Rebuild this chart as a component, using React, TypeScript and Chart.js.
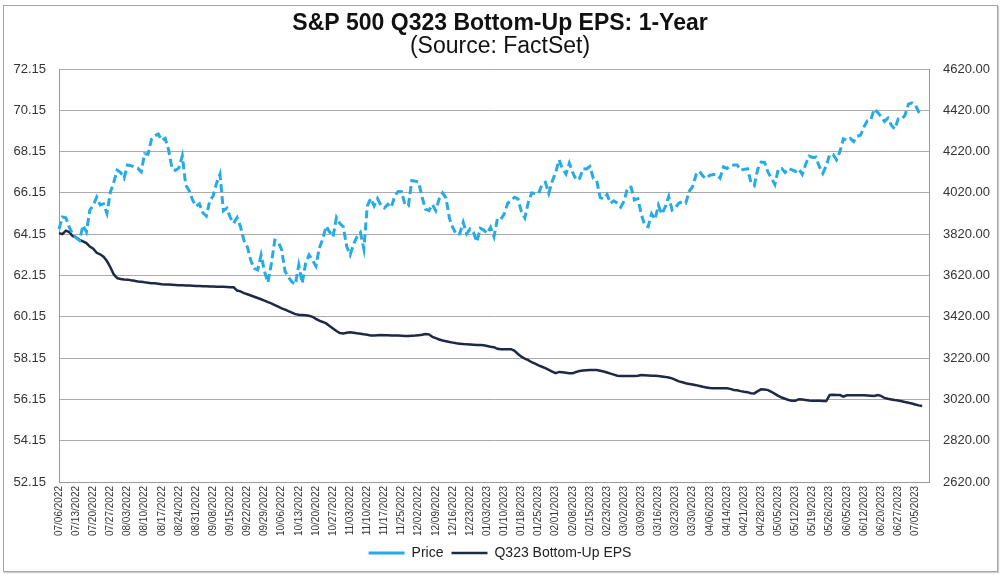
import React, { useEffect, useRef } from "react";
import { Chart, registerables } from "chart.js";

Chart.register(...registerables);

// Trading days shown on the category axis: [year, month, days]
const tradingDays: [number, number, number[]][] = [
  [2022, 7, [6, 7, 8, 11, 12, 13, 14, 15, 18, 19, 20, 21, 22, 25, 26, 27, 28, 29]],
  [2022, 8, [1, 2, 3, 4, 5, 8, 9, 10, 11, 12, 15, 16, 17, 18, 19, 22, 23, 24, 25, 26, 29, 30, 31]],
  [2022, 9, [1, 2, 6, 7, 8, 9, 12, 13, 14, 15, 16, 19, 20, 21, 22, 23, 26, 27, 28, 29, 30]],
  [2022, 10, [3, 4, 5, 6, 7, 10, 11, 12, 13, 14, 17, 18, 19, 20, 21, 24, 25, 26, 27, 28, 31]],
  [2022, 11, [1, 2, 3, 4, 7, 8, 9, 10, 11, 14, 15, 16, 17, 18, 21, 22, 23, 25, 28, 29, 30]],
  [2022, 12, [1, 2, 5, 6, 7, 8, 9, 12, 13, 14, 15, 16, 19, 20, 21, 22, 23, 27, 28, 29, 30]],
  [2023, 1, [3, 4, 5, 6, 9, 10, 11, 12, 13, 17, 18, 19, 20, 23, 24, 25, 26, 27, 30, 31]],
  [2023, 2, [1, 2, 3, 6, 7, 8, 9, 10, 13, 14, 15, 16, 17, 21, 22, 23, 24, 27, 28]],
  [2023, 3, [1, 2, 3, 6, 7, 8, 9, 10, 13, 14, 15, 16, 17, 20, 21, 22, 23, 24, 27, 28, 29, 30, 31]],
  [2023, 4, [3, 4, 5, 6, 10, 11, 12, 13, 14, 17, 18, 19, 20, 21, 24, 25, 26, 27, 28]],
  [2023, 5, [1, 2, 3, 4, 5, 8, 9, 10, 11, 12, 15, 16, 17, 18, 19, 22, 23, 24, 25, 26, 30, 31]],
  [2023, 6, [1, 2, 5, 6, 7, 8, 9, 12, 13, 14, 15, 16, 20, 21, 22, 23, 26, 27, 28, 29, 30]],
  [2023, 7, [3, 5, 6, 7, 10, 11]],
];

// S&P 500 price (right axis)
const priceValues: (number | null)[] = [
  // Jul 2022
  3845, 3903, 3899, 3854, 3819, 3802, 3790, 3863, 3831, 3937, 3960, 3999, 3962, 3967, 3921, 4024, 4072, 4130,
  // Aug
  4119, 4091, 4155, 4152, 4145, 4140, 4122, 4210, 4207, 4280, 4297, 4305, 4274, 4284, 4228, 4138, 4129, 4141, 4199, 4058, 4031, 3986, 3955,
  // Sep
  3967, 3924, 3908, 3980, 4006, 4067, 4110, 3933, 3946, 3901, 3873, 3900, 3856, 3790, 3758, 3693, 3655, 3647, 3719, 3640, 3586,
  // Oct
  3678, 3791, 3783, 3745, 3640, 3612, 3589, 3577, 3670, 3583, 3678, 3720, 3695, 3666, 3753, 3797, 3859, 3831, 3807, 3901, 3872,
  // Nov
  3856, 3760, 3720, 3771, 3807, 3828, 3749, 3956, 3993, 3957, 3992, 3959, 3947, 3965, 3950, 4004, 4027, 4026, 3964, 3958, 4080,
  // Dec
  4077, 4072, 3999, 3941, 3934, 3964, 3934, 3991, 4020, 3995, 3896, 3852, 3818, 3822, 3878, 3822, 3845, 3829, 3783, 3849, 3840,
  // Jan 2023
  3824, 3853, 3808, 3895, 3892, 3919, 3970, 3983, 3999, 3991, 3929, 3899, 3973, 4020, 4017, 4016, 4060, 4071, 4018, 4077,
  // Feb
  4119, 4180, 4136, 4111, 4164, 4118, 4082, 4090, 4137, 4136, 4148, 4090, 4079, 3997, 3991, 4012, 3970, 3982, 3970,
  // Mar
  3951, 3981, 4046, 4048, 3986, 3992, 3918, 3862, 3856, 3919, 3892, 3960, 3917, 3952, 4003, 3937, 3949, 3971, 3978, 3971, 4028, 4051, 4109,
  // Apr
  4125, 4101, 4090, 4105, 4109, 4109, 4092, 4146, 4138, 4151, 4155, 4155, 4130, 4134, 4137, 4072, 4056, 4135, 4169,
  // May
  4168, 4120, 4091, 4061, 4136, 4138, 4119, 4138, 4131, 4124, 4136, 4110, 4159, 4198, 4192, 4193, 4146, 4115, 4151, 4205, 4206, 4180,
  // Jun
  4221, 4282, 4274, 4284, 4268, 4294, 4299, 4339, 4369, 4373, 4426, 4410, 4389, 4366, 4382, 4348, 4329, 4378, 4377, 4396, 4450,
  // Jul
  4456, 4447, 4412, 4399, null, null,
];

// Q3 2023 bottom-up EPS estimate (left axis)
const epsValues: (number | null)[] = [
  // Jul 2022
  64.2, 64.15, 64.32, 64.25, 64.05, 64.0, 63.88, 63.8, 63.72, 63.55, 63.45, 63.25, 63.18, 63.06, 62.85, 62.55, 62.2, 62.02,
  // Aug
  61.98, 61.96, 61.95, 61.92, 61.9, 61.86, 61.85, 61.82, 61.8, 61.78, 61.77, 61.75, 61.73, 61.72, 61.71, 61.7, 61.69, 61.68, 61.68, 61.67, 61.66, 61.65, 61.64,
  // Sep
  61.64, 61.63, 61.63, 61.62, 61.62, 61.61, 61.6, 61.6, 61.59, 61.58, 61.58, 61.42, 61.38, 61.3, 61.24, 61.18, 61.12, 61.06, 61.0, 60.93, 60.86,
  // Oct
  60.8, 60.72, 60.64, 60.56, 60.5, 60.42, 60.35, 60.28, 60.25, 60.24, 60.23, 60.2, 60.15, 60.05, 59.96, 59.9, 59.83, 59.7, 59.58, 59.46, 59.36,
  // Nov
  59.34, 59.38, 59.4, 59.38, 59.35, 59.33, 59.3, 59.28, 59.25, 59.24, 59.26, 59.27, 59.26, 59.26, 59.25, 59.24, 59.24, 59.23, 59.22, 59.22, 59.23,
  // Dec
  59.24, 59.26, 59.28, 59.32, 59.3, 59.18, 59.12, 59.05, 59.0, 58.97, 58.93, 58.9, 58.87, 58.85, 58.83, 58.82, 58.81, 58.8, 58.79, 58.78, 58.77,
  // Jan 2023
  58.74, 58.7, 58.68, 58.6, 58.58, 58.58, 58.58, 58.58, 58.5, 58.35, 58.22, 58.12, 58.05, 57.95, 57.88, 57.8, 57.73, 57.66, 57.58, 57.5,
  // Feb
  57.42, 57.48, 57.46, 57.44, 57.42, 57.42, 57.48, 57.53, 57.55, 57.56, 57.57, 57.57, 57.57, 57.54, 57.5, 57.45, 57.4, 57.35, 57.3,
  // Mar
  57.28, 57.28, 57.28, 57.28, 57.28, 57.3, 57.33, 57.32, 57.31, 57.3, 57.29, 57.28, 57.26, 57.24, 57.21, 57.17, 57.1, 57.02, 56.98, 56.93, 56.9, 56.87, 56.84,
  // Apr
  56.8, 56.76, 56.73, 56.7, 56.69, 56.69, 56.69, 56.69, 56.69, 56.66, 56.61, 56.59, 56.55, 56.52, 56.5, 56.45, 56.44, 56.55, 56.64,
  // May
  56.63, 56.6, 56.52, 56.42, 56.32, 56.24, 56.18, 56.12, 56.09, 56.08, 56.16, 56.14, 56.12, 56.1, 56.09, 56.09, 56.08, 56.07, 56.07, 56.36, 56.37, 56.36,
  // Jun
  56.36, 56.28, 56.35, 56.35, 56.35, 56.35, 56.35, 56.35, 56.34, 56.33, 56.32, 56.36, 56.32, 56.22, 56.18, 56.15, 56.12, 56.1, 56.06, 56.02, 55.99,
  // Jul
  55.95, 55.9, 55.86, 55.83, null, null,
];

const TITLE = "S&P 500 Q323 Bottom-Up EPS: 1-Year";
const SUBTITLE = "(Source: FactSet)";
const PRICE_LABEL = "Price";
const EPS_LABEL = "Q323 Bottom-Up EPS";

const PRICE_COLOR = "#26abe4";
const EPS_COLOR = "#1c2947";
const FONT = "'Liberation Sans', Arial, Helvetica, sans-serif";

const pad2 = (n: number) => (n < 10 ? "0" + n : "" + n);
const dateLabels: string[] = [];
tradingDays.forEach(([y, m, days]) => {
  days.forEach((d) => dateLabels.push(`${pad2(m)}/${pad2(d)}/${y}`));
});

export default function App() {
  const canvasRef = useRef<HTMLCanvasElement | null>(null);

  useEffect(() => {
    const canvas = canvasRef.current;
    if (!canvas) return;
    const chart = new Chart(canvas, {
      type: "line",
      data: {
        labels: dateLabels,
        datasets: [
          {
            label: PRICE_LABEL,
            data: priceValues,
            yAxisID: "y1",
            borderColor: PRICE_COLOR,
            backgroundColor: PRICE_COLOR,
            borderWidth: 3,
            borderDash: [8, 4],
            pointRadius: 0,
            tension: 0,
            fill: false,
          },
          {
            label: EPS_LABEL,
            data: epsValues,
            yAxisID: "y",
            borderColor: EPS_COLOR,
            backgroundColor: EPS_COLOR,
            borderWidth: 2.5,
            pointRadius: 0,
            tension: 0,
            fill: false,
          },
        ],
      },
      options: {
        responsive: false,
        animation: false,
        devicePixelRatio: 1,
        layout: { padding: { top: 0, left: 0, right: 0, bottom: 5 } },
        plugins: {
          title: {
            display: true,
            text: TITLE,
            color: "#111",
            font: { family: FONT, size: 23, weight: "bold", lineHeight: 1 },
            padding: { top: 12.5, bottom: 0 },
          },
          subtitle: {
            display: true,
            text: SUBTITLE,
            color: "#111",
            font: { family: FONT, size: 23, weight: "normal", lineHeight: 1 },
            padding: { top: 0, bottom: 10.5 },
          },
          legend: {
            display: true,
            position: "bottom",
            labels: {
              usePointStyle: true,
              pointStyle: "line",
              pointStyleWidth: 36,
              color: "#222",
              font: { family: FONT, size: 14 },
              padding: 8,
            },
          },
          tooltip: { enabled: false },
        },
        scales: {
          x: {
            type: "category",
            offset: false,
            grid: { display: false, drawTicks: false },
            border: { display: true, color: "#9a9a9a", width: 1 },
            ticks: {
              autoSkip: false,
              minRotation: 90,
              maxRotation: 90,
              padding: 4,
              color: "#333",
              font: { family: FONT, size: 10 },
              callback: function (this: any, value: any, index: number) {
                return index % 5 === 0 && index <= 250 ? dateLabels[index] : "";
              },
            },
            afterFit: (s: any) => {
              s.height = 56;
            },
          },
          y: {
            type: "linear",
            position: "left",
            min: 52.15,
            max: 72.15,
            grid: { color: "#ababab", lineWidth: 1, drawTicks: false },
            border: { display: true, color: "#9a9a9a", width: 1 },
            ticks: {
              stepSize: 2,
              padding: 13,
              color: "#333",
              font: { family: FONT, size: 13 },
              callback: (v: any) => Number(v).toFixed(2),
            },
            afterFit: (s: any) => {
              s.width = 59;
            },
          },
          y1: {
            type: "linear",
            position: "right",
            min: 2620,
            max: 4620,
            grid: { display: false, drawTicks: false },
            border: { display: true, color: "#9a9a9a", width: 1 },
            ticks: {
              stepSize: 200,
              padding: 14,
              color: "#333",
              font: { family: FONT, size: 13 },
              callback: (v: any) => Number(v).toFixed(2),
            },
            afterFit: (s: any) => {
              s.width = 71;
            },
          },
        },
      },
    } as any);
    return () => chart.destroy();
  }, []);

  return (
    <div
      style={{
        position: "fixed",
        left: 0,
        top: 0,
        width: 1000,
        height: 575,
        background: "#fff",
        overflow: "hidden",
      }}
    >
      <div
        style={{
          position: "absolute",
          left: 3,
          top: 5,
          width: 993,
          height: 565,
          border: "1px solid #a8a8a8",
          boxShadow: "1px 1px 1px #ccc",
          pointerEvents: "none",
        }}
      />
      <canvas
        ref={canvasRef}
        width={1000}
        height={575}
        style={{ position: "absolute", left: 0, top: 0, width: 1000, height: 575 }}
      />
    </div>
  );
}
